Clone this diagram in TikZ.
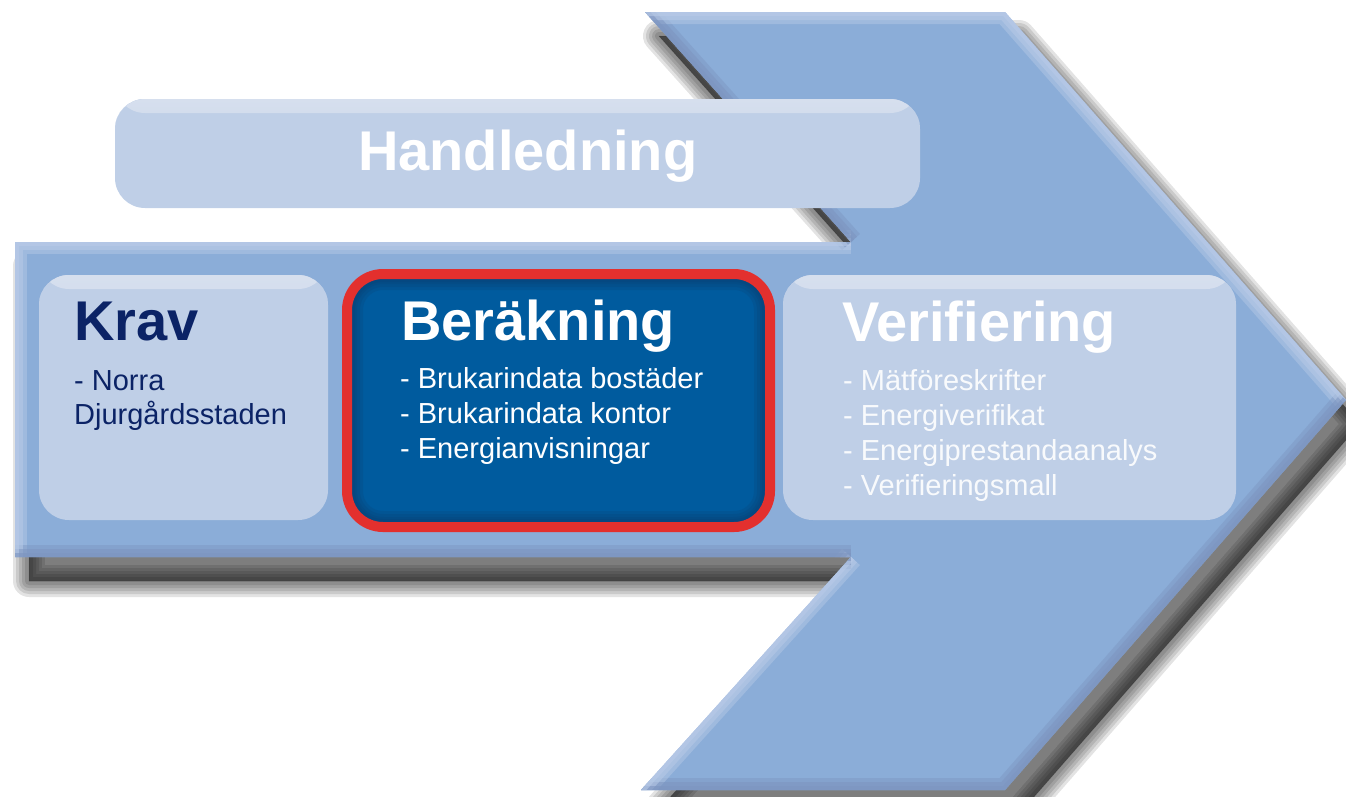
\documentclass[tikz,border=0pt]{standalone}
\usepackage{fontspec}
\setmainfont{Liberation Sans}
\definecolor{arrowbase}{HTML}{8BADD8}
\definecolor{arrowlight}{HTML}{B8CAE7}
\definecolor{arrowdark}{HTML}{7D95C0}
\definecolor{boxfill}{HTML}{BFCFE7}
\definecolor{boxhi}{HTML}{D6DFEE}
\definecolor{navy}{HTML}{0B2366}
\definecolor{berfill}{HTML}{005B9E}
\definecolor{berdark}{HTML}{0C3B6C}
\definecolor{redline}{HTML}{E3302E}
\tikzset{
  bevellight/.style={draw=arrowlight, line cap=butt},
  beveldark/.style={draw=arrowdark, line cap=butt},
  shadowlayer/.style={fill=black, draw=black, fill opacity=.11, draw opacity=.11, line join=round},
  lightbox/.style={fill=boxfill, rounded corners=30pt, inner sep=0pt, outer sep=0pt,
    anchor=north west,
    path picture={\fill[top color=boxhi, bottom color=boxfill]
      (path picture bounding box.north west) rectangle ([yshift=-14pt]path picture bounding box.north east);}},
  berbox/.style={draw=redline, line width=10pt, fill=berfill, rounded corners=36pt,
    inner sep=0pt, outer sep=0pt, anchor=north west,
    path picture={
      \foreach \w in {32,26,20,16}{
      \draw[berdark, opacity=.18, line width=\w pt, rounded corners=36pt]
        (path picture bounding box.north west) rectangle (path picture bounding box.south east);}}},
  titletext/.style={font=\fontsize{56}{66}\selectfont\bfseries, inner sep=0pt, anchor=base west},
  itemtext/.style={font=\fontsize{29}{35}\selectfont, inner sep=0pt, anchor=base west}
}
\begin{document}
\begin{tikzpicture}[x=1pt,y=-1pt]
\useasboundingbox (0,0) rectangle (1346,796);
\coordinate (A) at (15,242);
\coordinate (B) at (851,242);
\coordinate (C) at (645,12);
\coordinate (D) at (1005,12);
\coordinate (E) at (1346,400);
\coordinate (F) at (1005,790);
\coordinate (G) at (641,790);
\coordinate (H) at (851,557);
\coordinate (I) at (15,557);
% soft shadow of the big arrow
\begin{scope}[transform canvas={xshift=14pt, yshift=-24pt}]
  \foreach \w in {32,26,20,14,8,1}{
    \path[shadowlayer, line width=\w pt]
      (A)--(B)--(C)--(D)--(E)--(F)--(G)--(H)--(I)--cycle;}
\end{scope}
% big arrow
\fill[arrowbase] (A)--(B)--(C)--(D)--(E)--(F)--(G)--(H)--(I)--cycle;
\begin{scope}
  \clip (A)--(B)--(C)--(D)--(E)--(F)--(G)--(H)--(I)--cycle;
  \foreach \w/\o in {24/.45,16/.55,8/.6}{
  \draw[bevellight, line width=\w pt, opacity=\o] (I)--(A)--(B);
  \draw[beveldark, line width=\w pt, opacity=\o] (B)--(C);
  \draw[bevellight, line width=\w pt, opacity=\o] (C)--(D)--(E);
  \draw[beveldark, line width=\w pt, opacity=\o] (E)--(F)--(G);
  \draw[bevellight, line width=\w pt, opacity=\o] (G)--(H);
  \draw[beveldark, line width=\w pt, opacity=\o] (H)--(I);}
\end{scope}
% boxes
\node[lightbox, minimum width=805pt, minimum height=109pt] (handbox) at (115,99) {};
\node[lightbox, minimum width=289pt, minimum height=245pt] (kravbox) at (39,275) {};
\node[berbox, minimum width=423pt, minimum height=253pt] (berbox) at (347,274) {};
\node[lightbox, minimum width=453pt, minimum height=245pt] (verbox) at (783,275) {};
% texts
\node[titletext, text=white] (hand) at (358,170) {Handledning};
\node[titletext, text=navy] (kravt) at (74,340) {Krav};
\node[itemtext, text=navy] (k1) at (74,390) {- Norra};
\node[itemtext, text=navy] (k2) at (74,424) {Djurgårdsstaden};
\node[titletext, text=white] (bert) at (401,340) {Beräkning};
\node[itemtext, text=white] (b1) at (400,388) {- Brukarindata bostäder};
\node[itemtext, text=white] (b2) at (400,423) {- Brukarindata kontor};
\node[itemtext, text=white] (b3) at (400,458) {- Energianvisningar};
\node[titletext, text=white] (vert) at (842,341) {Verifiering};
\node[itemtext, text=white, text opacity=.9] (v1) at (843,390) {- Mätföreskrifter};
\node[itemtext, text=white, text opacity=.9] (v2) at (843,425) {- Energiverifikat};
\node[itemtext, text=white, text opacity=.9] (v3) at (843,460) {- Energiprestandaanalys};
\node[itemtext, text=white, text opacity=.9] (v4) at (843,495) {- Verifieringsmall};
\end{tikzpicture}
\end{document}
